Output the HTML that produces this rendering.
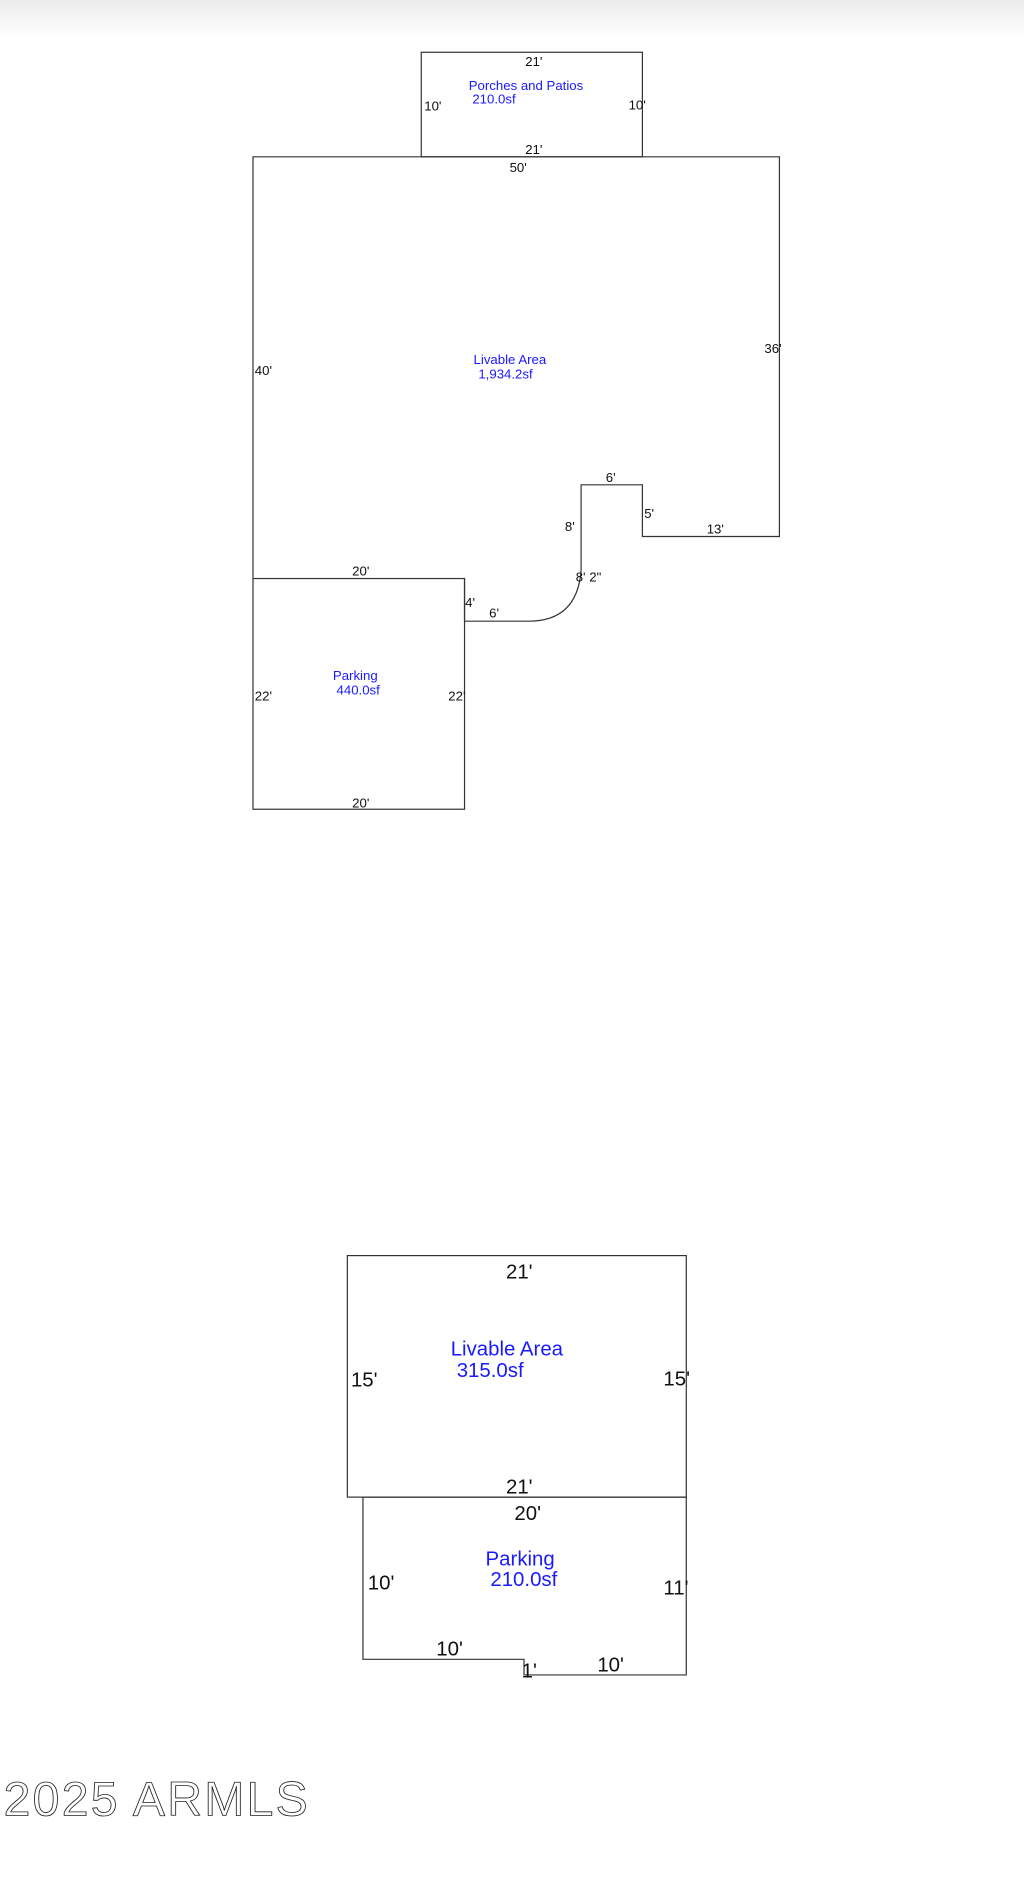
<!DOCTYPE html>
<html><head><meta charset="utf-8"><style>
html,body{margin:0;padding:0;background:#fff;}
svg{display:block;}
</style></head><body>
<svg width="1024" height="1884" viewBox="0 0 852 1568" preserveAspectRatio="none" xmlns="http://www.w3.org/2000/svg">
<defs><linearGradient id="g" x1="0" y1="0" x2="0" y2="1"><stop offset="0" stop-color="#ececec"/><stop offset="1" stop-color="#fff"/></linearGradient></defs>
<rect width="852" height="1568" fill="#fff"/>
<rect width="852" height="32" fill="url(#g)"/>
<g fill="none" stroke="#333" stroke-width="1">
<rect x="350.5" y="43.5" width="184" height="87"/>
<path d="M210.5 481 V130.5 H648.5 V446.5 H534.5 V403.5 H483.5 V475 Q480 517 440 517 H386.5 V481"/>
<rect x="210.5" y="481.5" width="176" height="192"/>
<rect x="289" y="1045" width="282" height="201"/>
<path d="M302 1246 H571 V1394 H436 V1381 H302 Z"/>
</g>
<g font-family="Liberation Sans, sans-serif" font-size="11" fill="#111">
<text x="437" y="55">21'</text>
<text x="353" y="92">10'</text>
<text x="523" y="91">10'</text>
<text x="437" y="128">21'</text>
<text x="424" y="143">50'</text>
<text x="212" y="312">40'</text>
<text x="636" y="294">36'</text>
<text x="504" y="401">6'</text>
<text x="536" y="431">5'</text>
<text x="588" y="444">13'</text>
<text x="470" y="442">8'</text>
<text x="479" y="484">8' 2"</text>
<text x="293" y="479">20'</text>
<text x="387" y="505">4'</text>
<text x="407" y="514">6'</text>
<text x="212" y="583">22'</text>
<text x="373" y="583">22'</text>
<text x="293" y="672">20'</text>
</g>
<g font-family="Liberation Sans, sans-serif" font-size="11" fill="#1a1aff">
<text x="390" y="75">Porches and Patios</text>
<text x="393" y="86">210.0sf</text>
<text x="394" y="303">Livable Area</text>
<text x="398" y="315">1,934.2sf</text>
<text x="277" y="566">Parking</text>
<text x="280" y="578">440.0sf</text>
</g>
<g font-family="Liberation Sans, sans-serif" font-size="17" fill="#111">
<text x="421" y="1064">21'</text>
<text x="292" y="1154">15'</text>
<text x="552" y="1153">15'</text>
<text x="421" y="1243">21'</text>
<text x="428" y="1265">20'</text>
<text x="306" y="1323">10'</text>
<text x="552" y="1327">11'</text>
<text x="363" y="1378">10'</text>
<text x="434" y="1396">1'</text>
<text x="497" y="1391">10'</text>
</g>
<g font-family="Liberation Sans, sans-serif" font-size="17" fill="#1a1aff">
<text x="375" y="1128">Livable Area</text>
<text x="380" y="1146">315.0sf</text>
<text x="404" y="1303">Parking</text>
<text x="408" y="1320">210.0sf</text>
</g>
<text x="3" y="1511" font-family="Liberation Sans, sans-serif" font-size="40" fill="none" stroke="#222" stroke-width="0.7" letter-spacing="1" textLength="254">2025 ARMLS</text>
</svg>
</body></html>
